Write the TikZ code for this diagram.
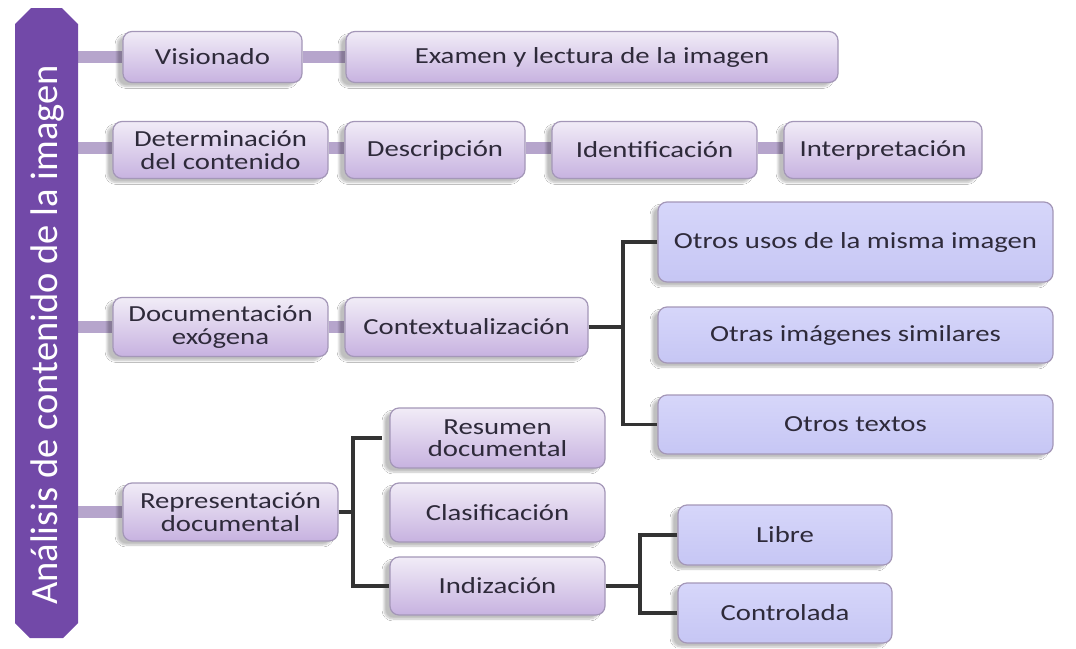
\documentclass[tikz,border=0pt]{standalone}
\usepackage{fontspec}
\setmainfont{Carlito}[FakeStretch=1.25]
\newfontfamily\barfont{Carlito}
\usetikzlibrary{shadows.blur,backgrounds}
\definecolor{barpurple}{HTML}{7249A8}
\definecolor{boxtop}{HTML}{F1ECF7}
\definecolor{boxbot}{HTML}{C7B2E0}
\definecolor{bluetop}{HTML}{D6D6FA}
\definecolor{bluebot}{HTML}{C6C6F4}
\definecolor{boxline}{HTML}{A497B8}
\definecolor{linkbar}{HTML}{B6A5CC}
\definecolor{txt}{HTML}{2E2A3A}
\tikzset{
  box/.style={draw=boxline, line width=1.2pt, rounded corners=9pt,
    top color=boxtop, bottom color=boxbot, text=txt, align=center,
    font=\fontsize{23}{22.5}\selectfont, inner sep=0pt,
    blur shadow={shadow xshift=-6pt, shadow yshift=-4pt, shadow opacity=25, shadow blur steps=6}},
  bluebox/.style={box, top color=bluetop, bottom color=bluebot},
  link/.style={draw=linkbar, line width=12pt},
  tree/.style={draw=black!80, line width=3.2pt},
}
\begin{document}
\begin{tikzpicture}[x=1pt,y=-1pt]
\useasboundingbox (0,0) rectangle (1076,648);
% left bar
\fill[barpurple] (15,24) -- (31,8) -- (62,8) -- (78,24) -- (78,623) -- (63,638) -- (30,638) -- (15,623) -- cycle;
\node[rotate=90, text=white, font=\barfont\fontsize{38.5}{39}\selectfont] (bar) at (47,335) {Análisis de contenido de la imagen};
\coordinate (b1) at (78,57);
\coordinate (b2) at (78,148);
\coordinate (b3) at (78,327);
\coordinate (b4) at (78,512);
% row 1
\node[box, minimum width=179pt, minimum height=51pt] (vis) at (212.5,57) {Visionado};
\node[box, minimum width=492pt, minimum height=51pt] (exam) at (592,57) {Examen y lectura de la imagen};
% row 2
\node[box, minimum width=215pt, minimum height=57pt] (det) at (220.5,150) {Determinación\\del contenido};
\node[box, minimum width=180pt, minimum height=57pt] (desc) at (435,150) {Descripción};
\node[box, minimum width=205pt, minimum height=57pt] (ident) at (654.5,150) {Identificación};
\node[box, minimum width=198pt, minimum height=57pt] (interp) at (883,150) {Interpretación};
% row 3
\node[box, minimum width=215pt, minimum height=59pt] (doc) at (220.5,327) {Documentación\\exógena};
\node[box, minimum width=243pt, minimum height=59pt] (cont) at (466.5,327) {Contextualización};
\node[bluebox, minimum width=395pt, minimum height=80pt] (usos) at (855.5,242) {Otros usos de la misma imagen};
\node[bluebox, minimum width=395pt, minimum height=56pt] (simil) at (855.5,335) {Otras imágenes similares};
\node[bluebox, minimum width=395pt, minimum height=59pt] (textos) at (855.5,424.5) {Otros textos};
% row 4
\node[box, minimum width=215pt, minimum height=58pt] (rep) at (230.5,512) {Representación\\documental};
\node[box, minimum width=215pt, minimum height=60pt] (res) at (497.5,438) {Resumen\\documental};
\node[box, minimum width=215pt, minimum height=59pt] (clas) at (497.5,512.5) {Clasificación};
\node[box, minimum width=215pt, minimum height=58pt] (indiz) at (497.5,586) {Indización};
\node[bluebox, minimum width=214pt, minimum height=60pt] (libre) at (785,535) {Libre};
\node[bluebox, minimum width=214pt, minimum height=60pt] (contr) at (785,613) {Controlada};
\begin{scope}[on background layer]
\fill[white] (0,0) rectangle (1076,648);
\draw[link] (b1) -- (vis.west);
\draw[link] (vis.east) -- (exam.west);
\draw[link] (b2) -- (det.west |- b2);
\draw[link] (det.east |- b2) -- (desc.west |- b2);
\draw[link] (desc.east |- b2) -- (ident.west |- b2);
\draw[link] (ident.east |- b2) -- (interp.west |- b2);
\draw[link] (b3) -- (doc.west);
\draw[link] (doc.east) -- (cont.west);
\draw[link] (b4) -- (rep.west);
\end{scope}
% tree connectors
\coordinate (t1) at (623,327);
\draw[tree] (cont.east) -- (t1);
\draw[tree] (usos.west) -- (t1 |- usos.west) -- (t1 |- textos.west) -- (textos.west);
\coordinate (t2) at (353,512);
\coordinate (t2e) at (382,438);
\draw[tree] (rep.east) -- (t2);
\draw[tree] (t2e) -- (t2 |- t2e) -- (t2 |- indiz.west) -- (indiz.west);
\coordinate (t3) at (640,586);
\draw[tree] (indiz.east) -- (t3);
\draw[tree] (libre.west) -- (t3 |- libre.west) -- (t3 |- contr.west) -- (contr.west);
\end{tikzpicture}
\end{document}
